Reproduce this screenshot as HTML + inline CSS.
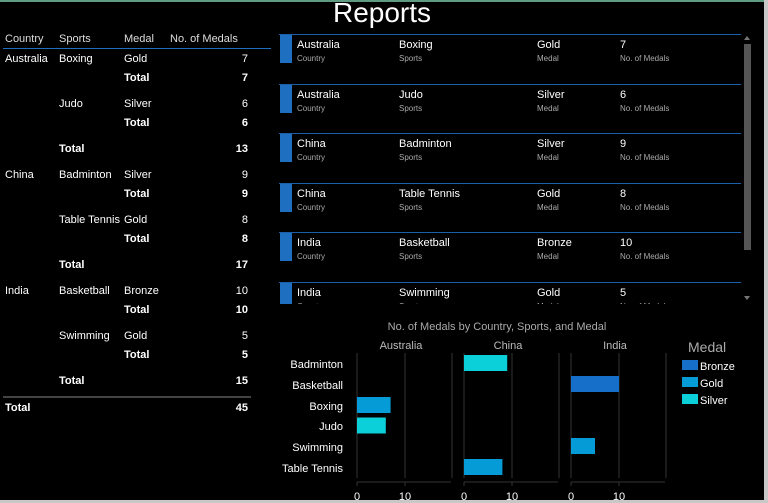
<!DOCTYPE html>
<html><head><meta charset="utf-8"><style>
body{margin:0;width:768px;height:503px;background:#000;overflow:hidden;position:relative;font-family:"Liberation Sans",sans-serif;color:#fff}
.a{position:absolute;white-space:nowrap}
.t{font-size:11px;margin-top:1px}
.b{font-weight:bold}
.r{text-align:right;width:60px}
.s{font-size:8px;color:#aaa;margin-top:1px}
.c{font-size:11px;margin-top:2px}
</style></head><body>
<div class="a" style="left:0;top:0;width:768px;height:2px;background:#5f9b80"></div>
<div class="a" style="left:764px;top:0;width:4px;height:503px;background:#c8c8c8"></div>
<div class="a" style="left:0;top:500px;width:768px;height:3px;background:#c8c8c8"></div>
<div class="a" style="left:0;top:-3px;width:764px;text-align:center;font-size:28px">Reports</div>

<!-- table -->
<div class="a t" style="left:5px;top:32px;color:#ddd">Country</div>
<div class="a t" style="left:59px;top:32px;color:#ddd">Sports</div>
<div class="a t" style="left:124px;top:32px;color:#ddd">Medal</div>
<div class="a t" style="left:170px;top:32px;color:#ddd">No. of Medals</div>
<div class="a" style="left:3px;top:48px;width:268px;height:1px;background:#1f6fc0"></div>

<div class="a t" style="left:5px;top:52px">Australia</div>
<div class="a t" style="left:59px;top:52px">Boxing</div>
<div class="a t" style="left:124px;top:52px">Gold</div>
<div class="a t r" style="left:188px;top:52px">7</div>
<div class="a t b" style="left:124px;top:71px">Total</div>
<div class="a t b r" style="left:188px;top:71px">7</div>
<div class="a t" style="left:59px;top:97px">Judo</div>
<div class="a t" style="left:124px;top:97px">Silver</div>
<div class="a t r" style="left:188px;top:97px">6</div>
<div class="a t b" style="left:124px;top:116px">Total</div>
<div class="a t b r" style="left:188px;top:116px">6</div>
<div class="a t b" style="left:59px;top:142px">Total</div>
<div class="a t b r" style="left:188px;top:142px">13</div>

<div class="a t" style="left:5px;top:168px">China</div>
<div class="a t" style="left:59px;top:168px">Badminton</div>
<div class="a t" style="left:124px;top:168px">Silver</div>
<div class="a t r" style="left:188px;top:168px">9</div>
<div class="a t b" style="left:124px;top:187px">Total</div>
<div class="a t b r" style="left:188px;top:187px">9</div>
<div class="a t" style="left:59px;top:213px">Table Tennis</div>
<div class="a t" style="left:124px;top:213px">Gold</div>
<div class="a t r" style="left:188px;top:213px">8</div>
<div class="a t b" style="left:124px;top:232px">Total</div>
<div class="a t b r" style="left:188px;top:232px">8</div>
<div class="a t b" style="left:59px;top:258px">Total</div>
<div class="a t b r" style="left:188px;top:258px">17</div>

<div class="a t" style="left:5px;top:284px">India</div>
<div class="a t" style="left:59px;top:284px">Basketball</div>
<div class="a t" style="left:124px;top:284px">Bronze</div>
<div class="a t r" style="left:188px;top:284px">10</div>
<div class="a t b" style="left:124px;top:303px">Total</div>
<div class="a t b r" style="left:188px;top:303px">10</div>
<div class="a t" style="left:59px;top:329px">Swimming</div>
<div class="a t" style="left:124px;top:329px">Gold</div>
<div class="a t r" style="left:188px;top:329px">5</div>
<div class="a t b" style="left:124px;top:348px">Total</div>
<div class="a t b r" style="left:188px;top:348px">5</div>
<div class="a t b" style="left:59px;top:374px">Total</div>
<div class="a t b r" style="left:188px;top:374px">15</div>
<div class="a" style="left:3px;top:396px;width:248px;height:2px;background:#444"></div>
<div class="a t b" style="left:5px;top:401px">Total</div>
<div class="a t b r" style="left:188px;top:401px">45</div>

<!-- cards -->
<div class="a" style="left:279px;top:34px;width:462px;height:270px;overflow:hidden">
<div style="position:relative">
<div class="a" style="left:0;top:0px;width:462px;height:1px;background:#1a5fa8"></div>
<div class="a" style="left:1px;top:1px;width:12px;height:28px;background:#1f6fc0"></div>
<div class="a c" style="left:18px;top:3px">Australia</div><div class="a s" style="left:18px;top:19px">Country</div>
<div class="a c" style="left:120px;top:3px">Boxing</div><div class="a s" style="left:120px;top:19px">Sports</div>
<div class="a c" style="left:258px;top:3px">Gold</div><div class="a s" style="left:258px;top:19px">Medal</div>
<div class="a c" style="left:341px;top:3px">7</div><div class="a s" style="left:341px;top:19px">No. of Medals</div>

<div class="a" style="left:0;top:49.5px;width:462px;height:1px;background:#1a5fa8"></div>
<div class="a" style="left:1px;top:50.5px;width:12px;height:28px;background:#1f6fc0"></div>
<div class="a c" style="left:18px;top:52.5px">Australia</div><div class="a s" style="left:18px;top:68.5px">Country</div>
<div class="a c" style="left:120px;top:52.5px">Judo</div><div class="a s" style="left:120px;top:68.5px">Sports</div>
<div class="a c" style="left:258px;top:52.5px">Silver</div><div class="a s" style="left:258px;top:68.5px">Medal</div>
<div class="a c" style="left:341px;top:52.5px">6</div><div class="a s" style="left:341px;top:68.5px">No. of Medals</div>

<div class="a" style="left:0;top:99px;width:462px;height:1px;background:#1a5fa8"></div>
<div class="a" style="left:1px;top:100px;width:12px;height:28px;background:#1f6fc0"></div>
<div class="a c" style="left:18px;top:102px">China</div><div class="a s" style="left:18px;top:118px">Country</div>
<div class="a c" style="left:120px;top:102px">Badminton</div><div class="a s" style="left:120px;top:118px">Sports</div>
<div class="a c" style="left:258px;top:102px">Silver</div><div class="a s" style="left:258px;top:118px">Medal</div>
<div class="a c" style="left:341px;top:102px">9</div><div class="a s" style="left:341px;top:118px">No. of Medals</div>

<div class="a" style="left:0;top:148.5px;width:462px;height:1px;background:#1a5fa8"></div>
<div class="a" style="left:1px;top:149.5px;width:12px;height:28px;background:#1f6fc0"></div>
<div class="a c" style="left:18px;top:151.5px">China</div><div class="a s" style="left:18px;top:167.5px">Country</div>
<div class="a c" style="left:120px;top:151.5px">Table Tennis</div><div class="a s" style="left:120px;top:167.5px">Sports</div>
<div class="a c" style="left:258px;top:151.5px">Gold</div><div class="a s" style="left:258px;top:167.5px">Medal</div>
<div class="a c" style="left:341px;top:151.5px">8</div><div class="a s" style="left:341px;top:167.5px">No. of Medals</div>

<div class="a" style="left:0;top:198px;width:462px;height:1px;background:#1a5fa8"></div>
<div class="a" style="left:1px;top:199px;width:12px;height:28px;background:#1f6fc0"></div>
<div class="a c" style="left:18px;top:201px">India</div><div class="a s" style="left:18px;top:217px">Country</div>
<div class="a c" style="left:120px;top:201px">Basketball</div><div class="a s" style="left:120px;top:217px">Sports</div>
<div class="a c" style="left:258px;top:201px">Bronze</div><div class="a s" style="left:258px;top:217px">Medal</div>
<div class="a c" style="left:341px;top:201px">10</div><div class="a s" style="left:341px;top:217px">No. of Medals</div>

<div class="a" style="left:0;top:247.5px;width:462px;height:1px;background:#1a5fa8"></div>
<div class="a" style="left:1px;top:248.5px;width:12px;height:28px;background:#1f6fc0"></div>
<div class="a c" style="left:18px;top:250.5px">India</div><div class="a s" style="left:18px;top:266.5px">Country</div>
<div class="a c" style="left:120px;top:250.5px">Swimming</div><div class="a s" style="left:120px;top:266.5px">Sports</div>
<div class="a c" style="left:258px;top:250.5px">Gold</div><div class="a s" style="left:258px;top:266.5px">Medal</div>
<div class="a c" style="left:341px;top:250.5px">5</div><div class="a s" style="left:341px;top:266.5px">No. of Medals</div>
</div></div>
<!-- scrollbar -->
<div class="a" style="left:744px;top:36px;width:0;height:0;border-left:3.5px solid transparent;border-right:3.5px solid transparent;border-bottom:4px solid #777"></div>
<div class="a" style="left:744px;top:44px;width:7px;height:206px;background:#555"></div>
<div class="a" style="left:744px;top:296px;width:0;height:0;border-left:3.5px solid transparent;border-right:3.5px solid transparent;border-top:4px solid #777"></div>

<!-- chart -->
<svg class="a" style="left:0;top:0" width="768" height="503" font-family="Liberation Sans, sans-serif">
<text x="497" y="330" text-anchor="middle" font-size="11" fill="#aaa">No. of Medals by Country, Sports, and Medal</text>
<g font-size="11" fill="#bbb" text-anchor="middle">
<text x="401" y="349">Australia</text><text x="508" y="349">China</text><text x="615" y="349">India</text></g>
<g stroke="#333" stroke-width="1">
<line x1="357" y1="353" x2="357" y2="478"/><line x1="405" y1="353" x2="405" y2="478"/><line x1="452" y1="353" x2="452" y2="478"/>
<line x1="464" y1="353" x2="464" y2="478"/><line x1="512" y1="353" x2="512" y2="478"/><line x1="559" y1="353" x2="559" y2="478"/>
<line x1="571" y1="353" x2="571" y2="478"/><line x1="619" y1="353" x2="619" y2="478"/><line x1="666" y1="353" x2="666" y2="478"/>
<line x1="357" y1="482" x2="451" y2="482"/><line x1="464" y1="482" x2="558" y2="482"/><line x1="571" y1="482" x2="665" y2="482"/>
<line x1="357" y1="482" x2="357" y2="486"/><line x1="405" y1="482" x2="405" y2="486"/>
<line x1="464" y1="482" x2="464" y2="486"/><line x1="512" y1="482" x2="512" y2="486"/>
<line x1="571" y1="482" x2="571" y2="486"/><line x1="619" y1="482" x2="619" y2="486"/>
</g>
<g font-size="11" fill="#fff" text-anchor="end">
<text x="343" y="368">Badminton</text><text x="343" y="389">Basketball</text><text x="343" y="410">Boxing</text>
<text x="343" y="430">Judo</text><text x="343" y="451">Swimming</text><text x="343" y="472">Table Tennis</text></g>
<rect x="357" y="397" width="33.6" height="16" fill="#049bd7"/>
<rect x="357" y="417.5" width="28.8" height="16" fill="#0bd0d9"/>
<rect x="464" y="355" width="43.2" height="16" fill="#0bd0d9"/>
<rect x="464" y="459" width="38.4" height="16" fill="#049bd7"/>
<rect x="571" y="376" width="48" height="16" fill="#1670c9"/>
<rect x="571" y="438" width="24" height="16" fill="#049bd7"/>
<g font-size="11" fill="#fff" text-anchor="middle">
<text x="357" y="500">0</text><text x="405" y="500">10</text><text x="464" y="500">0</text><text x="512" y="500">10</text><text x="571" y="500">0</text><text x="619" y="500">10</text></g>
<text x="688" y="352" font-size="14" fill="#aaa">Medal</text>
<rect x="682" y="360" width="16" height="10" fill="#1670c9"/><text x="700" y="370" font-size="11" fill="#fff">Bronze</text>
<rect x="682" y="377" width="16" height="10" fill="#049bd7"/><text x="700" y="387" font-size="11" fill="#fff">Gold</text>
<rect x="682" y="394" width="16" height="10" fill="#0bd0d9"/><text x="700" y="404" font-size="11" fill="#fff">Silver</text>
</svg>
</body></html>
